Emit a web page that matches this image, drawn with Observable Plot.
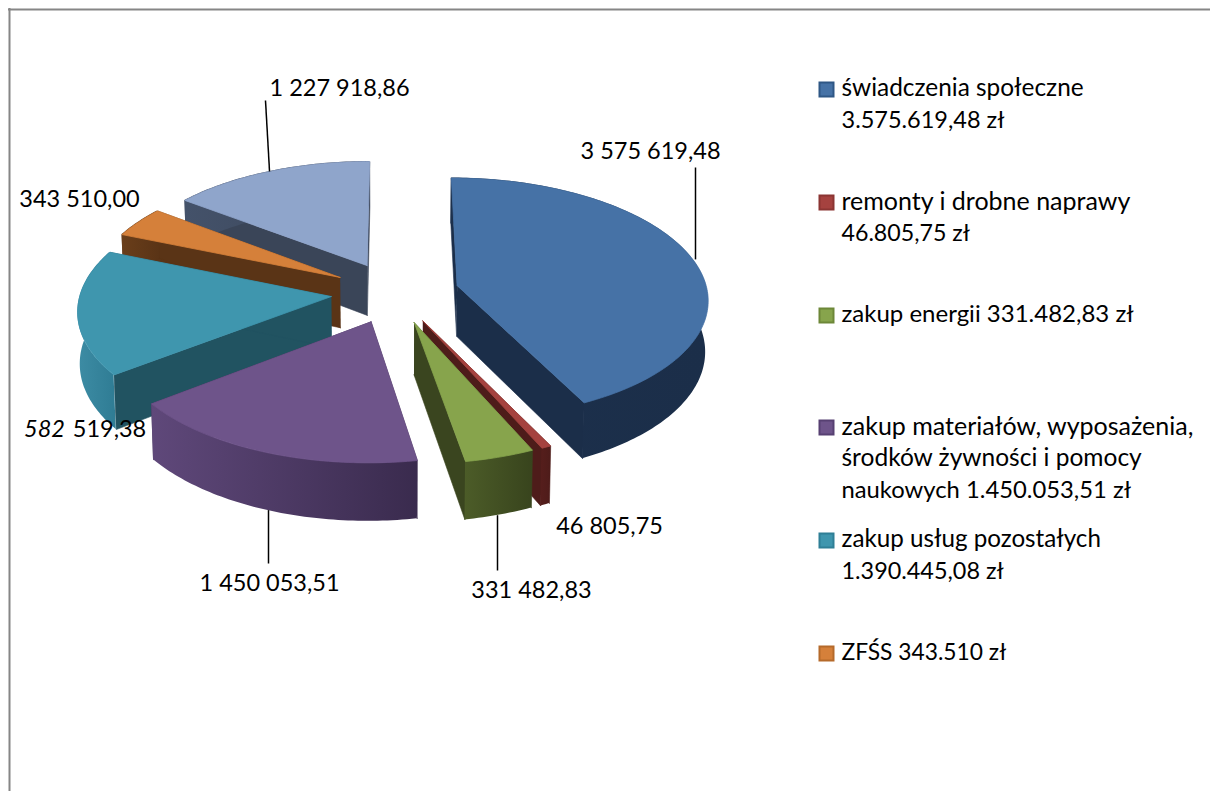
<!DOCTYPE html>
<html><head><meta charset="utf-8">
<script src="https://cdn.jsdelivr.net/npm/d3@7"></script>
<script src="https://cdn.jsdelivr.net/npm/@observablehq/plot@0.6"></script>
<style>html,body{margin:0;padding:0;background:#fff}svg{display:block}</style>
</head><body><div id="chart"></div>
<script>
// ---- data ----
const categories = ["świadczenia społeczne","remonty i drobne naprawy","zakup energii","zakup materiałów, wyposażenia, środków żywności i pomocy naukowych","zakup usług pozostałych","ZFŚS","pozostałe"];
const values = [3575619.48, 46805.75, 331482.83, 1450053.51, 1390445.08, 343510.00, 1227918.86];
const topColors  = ["#4672A6","#A5423F","#87A44C","#6E548A","#3F96AE","#D5803A","#8FA5CB"];
const sideColors = ["#1B2E49","#4E1C1A","#3A451F","#3A2B4E","#215361","#5A3416","#3A4558"];
const wallFrom   = ["#1C304C","#561E1C","#4C5C28","#5F487A","#3D8CA4","#6A3E1A","#44526A"];
const wallTo     = ["#1B2E49","#4E1C1A","#38441D","#3A2B4E","#2F7C94","#5A3416","#3A4558"];
const swatchStroke = ["#2F5785","#8B3533","#6D8738","#574072","#2F7F96","#B56A2B"];
const legendLines = [
  ["świadczenia społeczne","3.575.619,48 zł"],
  ["remonty i drobne naprawy","46.805,75 zł"],
  ["zakup energii 331.482,83 zł"],
  ["zakup materiałów, wyposażenia,","środków żywności i pomocy","naukowych 1.450.053,51 zł"],
  ["zakup usług pozostałych","1.390.445,08 zł"],
  ["ZFŚS 343.510 zł"]
];
const valueLabels = ["3 575 619,48","46 805,75","331 482,83","1 450 053,51","519,38","343 510,00","1 227 918,86"];

// ---- layout ----
const W = 1210, H = 791;
const cx = 394.5, cy = 292, A = 250.5, B = 120, persp = 0.103, explode = 0.256, depth = 51;
const FONT = "Lato, Carlito, sans-serif";
const labelPos = [[650,151],[609,526],[531,590],[269,583],[109,429],[79,199],[339,88]];
const leaderEnd = [[695,167],null,[497,570],[268,563],null,null,[265,100]];
const leaderVertical = [true,false,true,true,false,false,false];
const legendSizes = [[24.4,23.5],[25,23.2],[24],[25,24.5,23.8],[24.2,23.4],[22.8]];

const project = (X, Z, lower = false) => {
  const s = 1 / (1 - persp * Z);
  const x = cx + A * X * s, y = cy + B * Z * s;
  return lower ? [cx + (x - cx) * 0.992, y + depth * s] : [x, y];
};
const arcs = d3.pie().sort(null).value(d => d)(values);
const slices = arcs.map((a, i) => {
  const mid = (a.startAngle + a.endAngle) / 2;
  const ox = explode * Math.sin(mid), oz = -explode * Math.cos(mid);
  const pt = (t, r, lower) => project(ox + r * Math.sin(t), oz - r * Math.cos(t), lower);
  const n = Math.max(2, Math.ceil((a.endAngle - a.startAngle) / (Math.PI / 180)));
  const ts = d3.range(n + 1).map(k => a.startAngle + (a.endAngle - a.startAngle) * k / n);
  return {i, mid, pt, ts, a};
});

const poly = pts => pts.map(([x, y]) => ({x, y}));
const gradients = () => {
  const defs = document.createElementNS("http://www.w3.org/2000/svg", "defs");
  defs.innerHTML = values.map((_, i) =>
    `<linearGradient id="wall${i}" x1="0" x2="1" y1="0" y2="0"><stop offset="0" stop-color="${wallFrom[i]}"/><stop offset="1" stop-color="${wallTo[i]}"/></linearGradient>`).join("");
  return defs;
};

const marks = [gradients];
// frame
marks.push(Plot.ruleX([9], {y1: 8, y2: H, stroke: "#868686", strokeWidth: 2}));
marks.push(Plot.ruleY([9], {x1: 8, x2: W, stroke: "#868686", strokeWidth: 2}));

// painter's order: back to front
for (const idx of [6, 5, 4, 3, 0, 1, 2]) {
  const {a, pt, ts} = slices[idx];
  const side = t => poly([pt(t, 0), pt(t, 1), pt(t, 1, true), pt(t, 0, true)]);
  for (const t of [a.startAngle, a.endAngle])
    marks.push(Plot.line(side(t), {x: "x", y: "y", fill: sideColors[idx], stroke: sideColors[idx], strokeWidth: 0.6}));
  const wall = ts.map(t => { const [x1, y1] = pt(t, 1), [x2, y2] = pt(t, 1, true); return {x1, y1, x2, y2}; });
  marks.push(Plot.area(wall, {x1: "x1", y1: "y1", x2: "x2", y2: "y2", fill: `url(#wall${idx})`}));
  const top = poly([pt(a.startAngle, 0), ...ts.map(t => pt(t, 1))]);
  marks.push(Plot.line([...top, top[0]], {x: "x", y: "y", fill: topColors[idx], stroke: topColors[idx], strokeWidth: 0.8}));
}

// leader lines start on the slice's outer edge at its mid angle
const leaders = [];
slices.forEach(s => {
  const end = leaderEnd[s.i];
  if (!end) return;
  const [x, y] = s.pt(s.mid, 1, end[1] > cy);
  leaders.push({x1: leaderVertical[s.i] ? end[0] : x, y1: y, x2: end[0], y2: end[1]});
});
marks.push(Plot.link(leaders, {x1: "x1", y1: "y1", x2: "x2", y2: "y2", stroke: "#000", strokeWidth: 1.5}));

// value labels
const lab = valueLabels.map((text, i) => ({text, x: labelPos[i][0], y: labelPos[i][1]}));
marks.push(Plot.text(lab, {x: "x", y: "y", text: "text", fontSize: 23.5, fontFamily: FONT, fill: "#000", lineAnchor: "middle", textAnchor: "middle"}));
marks.push(Plot.text(["582"], {x: () => 44, y: () => 429, fontSize: 23.5, fontFamily: FONT, fontStyle: "italic", fill: "#000", lineAnchor: "middle", textAnchor: "middle"}));

// legend
const legendY = [88, 201, 314, 426, 539, 652];
const lineGap = 32;
legendY.forEach((y, i) => {
  marks.push(Plot.dot([y], {x: () => 826, y: d => d + 1, symbol: "square", r: 7.9, fill: topColors[i], stroke: swatchStroke[i], strokeWidth: 2}));
});
const legendText = legendLines.flatMap((lines, i) => lines.map((text, k) => ({text, y: legendY[i] + k * lineGap, size: legendSizes[i][k]})));
marks.push(Plot.text(legendText, {x: () => 841, y: "y", text: "text", fontSize: d => d.size, fontFamily: FONT, fill: "#000", lineAnchor: "middle", textAnchor: "start"}));

const chart = Plot.plot({
  width: W, height: H, margin: 0,
  x: {domain: [0, W], range: [0, W], axis: null},
  y: {domain: [0, H], range: [0, H], axis: null},
  style: {background: "#fff", fontFamily: FONT},
  marks
});
document.getElementById("chart").append(chart);
</script></body></html>
